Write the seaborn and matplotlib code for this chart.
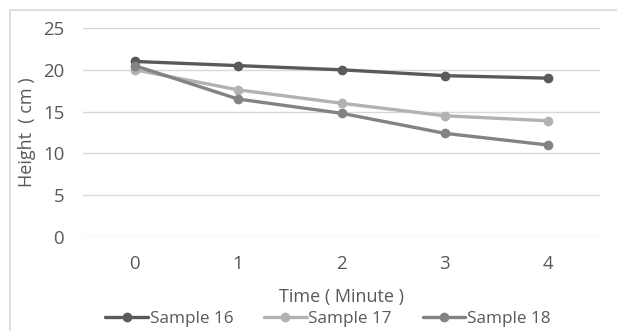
import matplotlib
matplotlib.use("Agg")
import matplotlib.pyplot as plt
import matplotlib.patches as mpatches
import seaborn as sns
import pandas as pd

# Measured heights over time for three samples
minutes = [0, 1, 2, 3, 4]
sample_16 = [21.0, 20.5, 20.0, 19.3, 19.0]
sample_17 = [20.0, 17.6, 16.0, 14.5, 13.9]
sample_18 = [20.5, 16.5, 14.8, 12.4, 11.0]
series_names = ["Sample 16", "Sample 17", "Sample 18"]
y_ticks = [0, 5, 10, 15, 20, 25]

df = pd.DataFrame({
    "Time": minutes * 3,
    "Height": sample_16 + sample_17 + sample_18,
    "Series": [series_names[0]] * 5 + [series_names[1]] * 5 + [series_names[2]] * 5,
})

sns.set_theme(style="white")
plt.rcParams["font.family"] = ["Open Sans", "DejaVu Sans"]

text_color = "#595959"
palette = {"Sample 16": "#5a5a5a", "Sample 17": "#b2b2b2", "Sample 18": "#838383"}

fig = plt.figure(figsize=(6.17, 3.31), dpi=100)
ax = fig.add_axes([83 / 617, 1 - 237 / 331, (600 - 83) / 617, (237 - 28) / 331])

sns.lineplot(data=df, x="Time", y="Height", hue="Series", palette=palette,
             marker="o", markersize=7, markeredgewidth=0, linewidth=2.4,
             ax=ax, legend=False, zorder=3)

ax.set_xlim(-0.5, 4.5)
ax.set_ylim(0, 25)
ax.set_xticks(minutes)
ax.set_yticks(y_ticks)
ax.grid(axis="y", color="#d9d9d9", linewidth=1)
ax.grid(axis="x", visible=False)
for s in ax.spines.values():
    s.set_visible(False)
ax.tick_params(axis="both", length=0, labelsize=13.4, labelcolor=text_color)
ax.tick_params(axis="y", pad=13.5)
ax.tick_params(axis="x", pad=13)
ax.set_xlabel("Time ( Minute )", fontsize=13, color=text_color, labelpad=11)
ax.set_ylabel("Height  ( cm )", fontsize=13, color=text_color, labelpad=0)
ax.yaxis.set_label_coords(-(83 - 36) / 517, 0.5)

# Legend entries: line with a centred marker
handles = [plt.Line2D([], [], color=palette[n], linewidth=2.4, marker="o",
                      markersize=7, markeredgewidth=0) for n in series_names]
fig.legend(handles, series_names, loc="center", ncol=3, frameon=False,
           bbox_to_anchor=(328 / 617, 1 - 319 / 331), fontsize=12.3, handlelength=2.5,
           handletextpad=0.1, columnspacing=1.8, labelcolor=text_color)

# Outer chart frame
fig.patches.append(mpatches.Rectangle((9.5 / 617, -0.05), 1.0, 1 - 9.5 / 331 + 0.05,
                                      transform=fig.transFigure, fill=False,
                                      edgecolor="#d9d9d9", linewidth=1.2))

fig.savefig("out.png", dpi=100)
